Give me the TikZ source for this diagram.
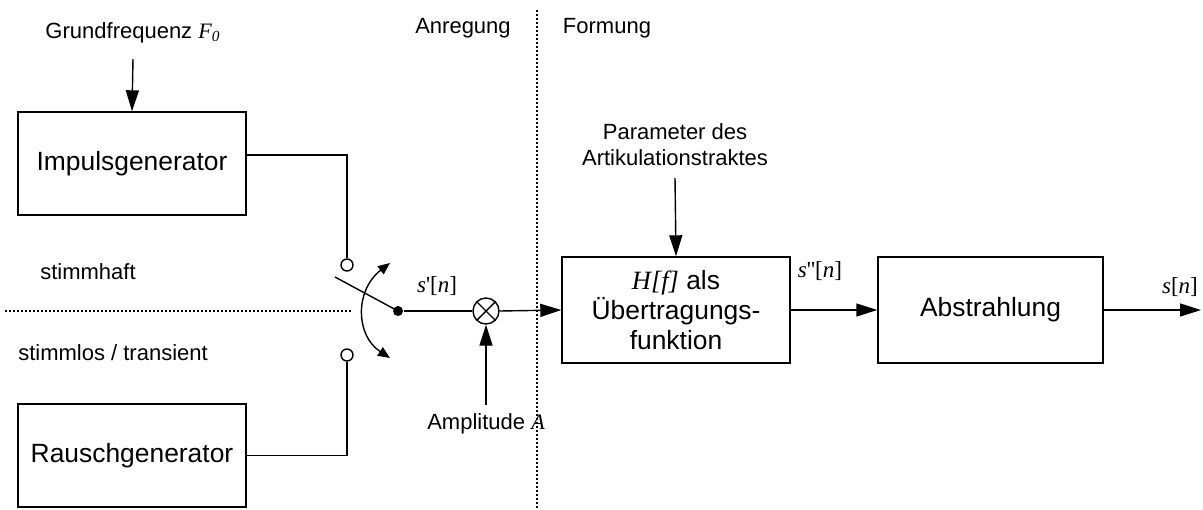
\documentclass[tikz,border=0pt]{standalone}
\usepackage{fontspec}
\setmainfont{Liberation Sans}
\newfontfamily\tms{Liberation Serif}
\usetikzlibrary{arrows.meta}
\begin{document}
\begin{tikzpicture}[x=0.5pt,y=-0.5pt, line width=0.7pt,
 box/.style={draw, rectangle, minimum width=114pt, minimum height=51.5pt, font=\fontsize{13.2}{15}\selectfont, align=center, inner sep=0pt},
 lbl/.style={font=\fontsize{11}{13}\selectfont, align=center, inner sep=0pt},
 mlbl/.style={font=\fontsize{11.5}{13}\selectfont\tms, inner sep=0pt},
 arr/.style={-{Triangle[length=10.5pt,width=6.5pt]}},
 sarr/.style={{Triangle[length=6pt,width=5pt]}-{Triangle[length=6pt,width=5pt]}},
 term/.style={draw, circle, fill=white, minimum size=6pt, inner sep=0pt},
 dotn/.style={circle, fill=black, minimum size=5pt, inner sep=0pt},
 sep/.style={dash pattern=on 1pt off 1pt, line width=0.6pt}]
\useasboundingbox (0,0) rectangle (1203,509);

% boxes
\node[box] (imp) at (132,163.5) {Impulsgenerator};
\node[box] (rau) at (132,455.5) {Rauschgenerator};
\node[box, minimum height=53pt] (hf) at (676,310) {{\tms\itshape H[f]} als\\Übertragungs-\\funktion};
\node[box, minimum width=112.5pt, minimum height=53pt] (abs) at (990.5,310) {Abstrahlung};

% labels
\node[lbl] (gf) at (133,33) {Grundfrequenz {\tms\itshape F\textsubscript{0}}};
\node[lbl] (anr) at (463,28) {Anregung};
\node[lbl] (form) at (607,28) {Formung};
\node[lbl] (par) at (675,145) {Parameter des\\Artikulationstraktes};
\node[lbl] (sh) at (88,272) {stimmhaft};
\node[lbl] (sl) at (113,353) {stimmlos / transient};
\node[lbl] (amp) at (486,424) {Amplitude {\tms\itshape A}};
\node[mlbl] (s1) at (437,286) {\textit{s}'[\textit{n}]};
\node[mlbl] (s2) at (820,271) {\textit{s}''[\textit{n}]};
\node[mlbl] (s3) at (1180,287) {\textit{s}[\textit{n}]};

% switch elements
\node[term] (t1) at (347,265) {};
\node[term] (t2) at (347,355) {};
\node[dotn] (dot) at (398,311) {};
\node[draw, circle, minimum size=13pt, inner sep=0pt] (mul) at (486,311) {};
\draw (mul.north west) -- (mul.south east);
\draw (mul.north east) -- (mul.south west);

\coordinate (swend) at (335,277);
\coordinate (gfa) at (133,59);
\coordinate (para) at (675,178);
\coordinate (ampa) at (486,405);
\coordinate (out) at (1201,310);
\coordinate (arcA) at (390,263);
\coordinate (arcB) at (390,358);

% connectors
\draw[arr] (gfa) -- (imp.north);
\draw (imp.east |- 0,155) -| (t1.north);
\draw (rau.east) -| (t2.south);
\draw (swend) -- (dot.center);
\draw[sarr] (arcA) .. controls (355,290) and (355,335) .. (arcB);
\draw (dot) -- (mul.west);
\draw[arr] (mul.east) -- (hf.west);
\draw[arr] (ampa) -- (mul.south);
\draw[arr] (para) -- (hf.north);
\draw[arr] (hf.east) -- (abs.west);
\draw[arr] (abs.east) -- (out);

% separators
\draw[sep] (5,311) -- (352,311);
\draw[sep] (537,10) -- (537,509);
\end{tikzpicture}
\end{document}
